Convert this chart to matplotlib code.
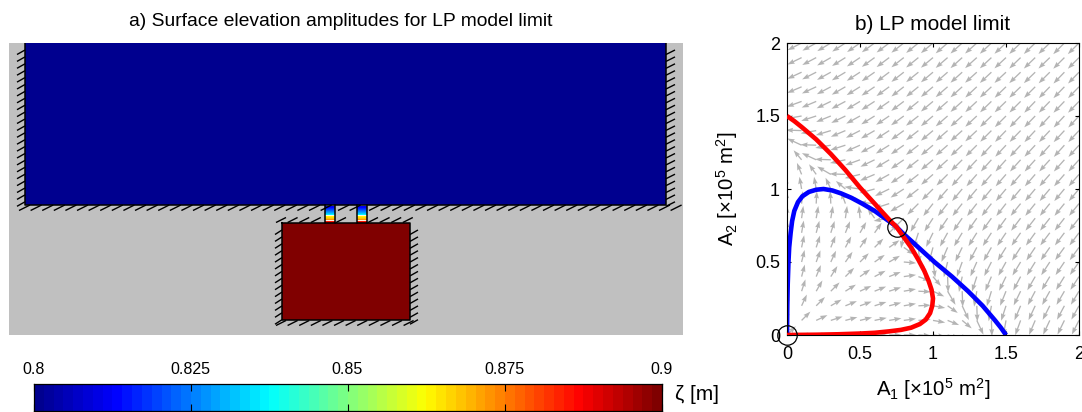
import numpy as np
import matplotlib
matplotlib.use("Agg")
import matplotlib.pyplot as plt
from matplotlib.patches import Rectangle
from matplotlib.collections import LineCollection
from matplotlib.colors import LinearSegmentedColormap

plt.rcParams['font.family'] = ['Liberation Sans', 'DejaVu Sans']
plt.rcParams['mathtext.fontset'] = 'custom'
plt.rcParams['mathtext.rm'] = 'Liberation Sans'
plt.rcParams['mathtext.it'] = 'Liberation Sans:italic'

# ---------- data ----------
zeta_min, zeta_max = 0.8, 0.9
cbar_ticks = [0.8, 0.825, 0.85, 0.875, 0.9]
cbar_labels = ['0.8', '0.825', '0.85', '0.875', '0.9']
basin_value = 0.8
lagoon_value = 0.9
inlet_values = [0.812, 0.814, 0.817, 0.82, 0.823, 0.826, 0.829, 0.832, 0.836, np.nan,
                0.864, 0.866, 0.868, 0.872, np.nan, 0.885, 0.892]

red_x = [0, 0.05, 0.1, 0.2, 0.3, 0.4, 0.5, 0.6, 0.7, 0.75, 0.8, 0.85, 0.9, 0.94, 0.97, 0.99, 1.0, 0.995,
         0.98, 0.95, 0.91, 0.85, 0.78, 0.7, 0.6, 0.5, 0.35, 0.2, 0]
red_y = [1.5, 1.465, 1.425, 1.34, 1.24, 1.13, 1.01, 0.9, 0.79, 0.74, 0.67, 0.6, 0.515, 0.44, 0.37, 0.31, 0.25, 0.2,
         0.15, 0.105, 0.075, 0.05, 0.035, 0.025, 0.015, 0.01, 0.005, 0.002, 0]
blue_x = [1.5, 1.465, 1.425, 1.34, 1.24, 1.13, 1.01, 0.9, 0.79, 0.74, 0.67, 0.6, 0.515, 0.44, 0.37, 0.31, 0.25, 0.2,
          0.15, 0.105, 0.075, 0.05, 0.035, 0.025, 0.015, 0.01, 0.005, 0.002, 0]
blue_y = [0, 0.05, 0.1, 0.2, 0.3, 0.4, 0.5, 0.6, 0.7, 0.75, 0.8, 0.85, 0.9, 0.94, 0.97, 0.99, 1.0, 0.995,
          0.98, 0.95, 0.91, 0.85, 0.78, 0.7, 0.6, 0.5, 0.35, 0.2, 0]
equil_x = [0, 0.75]
equil_y = [0, 0.74]

# arrow direction in degrees; rows A2 = 2.0 ... 0.0, columns A1 = 0.0 ... 2.0
angle_rows = [
 [205,207,209,211,213,215,216,217,218,219,220,221,222,222,223,223,224,224,224,225,225],
 [204,206,208,210,212,214,216,217,218,219,220,221,222,222,223,223,224,224,224,225,225],
 [203,205,207,209,211,213,215,217,218,219,220,221,222,222,223,223,224,224,225,226,226],
 [200,203,205,208,210,212,214,216,218,219,220,221,222,223,223,224,224,225,226,226,226],
 [196,200,203,206,208,211,213,215,217,219,220,221,222,223,224,224,225,226,226,226,226],
 [182,190,198,202,206,209,212,214,216,218,220,221,222,223,224,225,226,226,227,227,227],
 [165,178,190,197,203,207,210,213,216,218,220,221,222,223,225,226,226,227,227,227,227],
 [140,155,178,190,198,204,208,212,215,218,220,221,223,225,227,227,227,227,228,228,228],
 [118,130,155,178,192,200,206,211,215,218,220,222,225,227,228,228,228,228,228,228,228],
 [105,112,125,150,178,194,203,209,214,218,221,225,228,229,229,229,229,229,229,229,229],
 [ 98,100,100,115,140,172,195,206,213,218,225,229,230,230,230,230,230,230,230,230,230],
 [ 93, 85, 87, 93,110,140,175,198,210,225,232,232,232,232,232,232,231,231,231,231,231],
 [ 90, 82, 80, 80, 82, 95,125,190,225,240,237,236,235,235,234,234,233,232,232,232,232],
 [ 90, 80, 75, 72, 68, 60, 55, 45,260,252,244,241,239,238,237,236,235,234,233,233,233],
 [ 90, 78, 72, 68, 62, 55, 45, 35,-35,275,255,247,244,242,240,238,237,236,235,234,234],
 [ 90, 76, 70, 65, 55, 45, 35, 30, -5,-50,278,256,250,246,243,241,239,238,237,236,235],
 [ 90, 75, 68, 58, 45, 35, 28, 22,  8,-20,-50,272,258,252,247,244,242,240,239,238,237],
 [ 90, 72, 60, 45, 32, 25, 22, 18, 10, -3,-25,-60,272,260,253,248,244,242,241,240,239],
 [ 90, 65, 45, 30, 22, 20, 18, 15, 10,  3,-10,-35,-65,272,260,252,247,245,243,242,241],
 [ 90, 45, 25, 18, 15, 14, 12, 10,  8,  5,-10,-22,-40,-65,272,260,250,247,245,244,243],
 [ 45,  0,  0,  0,  0,  0,  0,  0,  0, -3, -8,-15,-28,-50,-75,268,254,250,247,246,245],
]
grid_values = [0, 0.1, 0.2, 0.3, 0.4, 0.5, 0.6, 0.7, 0.8, 0.9, 1.0, 1.1, 1.2, 1.3, 1.4, 1.5, 1.6, 1.7, 1.8, 1.9, 2.0]
a_ticks = [0, 0.5, 1, 1.5, 2]
a_labels = ['0', '0.5', '1', '1.5', '2']

# ---------- layout (pixels of a 1082 x 412 canvas) ----------
W, H = 1082, 412
fig = plt.figure(figsize=(W / 100, H / 100), dpi=100, facecolor='white')
def axes_px(x0, y0, x1, y1, **kw):
    return fig.add_axes([x0 / W, 1 - y1 / H, (x1 - x0) / W, (y1 - y0) / H], **kw)

cmap = LinearSegmentedColormap('matlab_jet', {
    'red':   [(0, 0, 0), (.375, 0, 0), (.625, 1, 1), (.875, 1, 1), (1, .5, .5)],
    'green': [(0, 0, 0), (.125, 0, 0), (.375, 1, 1), (.625, 1, 1), (.875, 0, 0), (1, 0, 0)],
    'blue':  [(0, .5625, .5625), (.125, 1, 1), (.375, 1, 1), (.625, 0, 0), (1, 0, 0)]}, N=64)
cmap.set_bad('#fff4e0')
norm = matplotlib.colors.Normalize(zeta_min, zeta_max)

# ---------- panel a ----------
ax = axes_px(9, 43, 683, 335)
ax.set_xlim(9, 683)
ax.set_ylim(335, 43)
ax.axis('off')
ax.add_patch(Rectangle((9, 43), 674, 292, fc='#c0c0c0', ec='none', zorder=0))
ax.add_patch(Rectangle((25, 43), 641, 162, fc=cmap(norm(basin_value)), ec='none', zorder=1))
ax.add_patch(Rectangle((282, 223), 128, 97, fc=cmap(norm(lagoon_value)), ec='none', zorder=1))
column = np.ma.masked_invalid(np.array(inlet_values)[:, None])
edges_y = np.linspace(205.5, 222.5, len(inlet_values) + 1)
for x0 in (324.5, 356.5):
    ax.pcolormesh([x0, x0 + 10], edges_y, column, cmap=cmap, norm=norm, zorder=1)
    ax.plot([x0, x0], [205, 223], color='k', lw=1.1, zorder=3)
    ax.plot([x0 + 10, x0 + 10], [205, 223], color='k', lw=1.1, zorder=3)

walls = [[(25, 43), (25, 205), (666, 205), (666, 43)],
         [(282, 223), (282, 320), (410, 320), (410, 223), (282, 223)]]
for w in walls:
    xs, ys = zip(*w)
    ax.plot(xs, ys, color='k', lw=1.1, zorder=3, solid_capstyle='projecting')

segs = []
for y in np.arange(50, 206, 6.9):
    segs.append([(17, y + 4.5), (25, y)])
    segs.append([(666, y + 4.5), (675, y)])
for x in list(np.arange(19, 322, 11.6)) + list(np.arange(338, 354, 11.6)) + list(np.arange(369, 672, 11.6)):
    segs.append([(x, 210.5), (x + 11, 205)])
for x in list(np.arange(276, 314, 11.6)) + list(np.arange(336, 347, 11.6)) + list(np.arange(368, 412, 11.6)):
    segs.append([(x, 222.5), (x + 10, 217.5)])
for y in np.arange(230, 321, 6.9):
    segs.append([(275, y + 4.5), (282, y)])
    segs.append([(410, y + 4.5), (418, y)])
for x in np.arange(276, 412, 11.6):
    segs.append([(x, 325.5), (x + 10, 320.5)])
ax.add_collection(LineCollection(segs, colors='k', linewidths=1.0, zorder=2))

fig.text(341 / W, 1 - 21 / H, 'a) Surface elevation amplitudes for LP model limit',
         ha='center', va='center', fontsize=13.85)

# ---------- colour bar ----------
cax = axes_px(33.5, 384, 661.5, 411)
cax.imshow(np.linspace(zeta_min, zeta_max, 64)[None, :], cmap=cmap, norm=norm, aspect='auto',
           extent=[zeta_min, zeta_max, 0, 1], interpolation='nearest')
cax.set_yticks([])
cax.set_xticks(cbar_ticks, cbar_labels, fontsize=11.5)
cax.xaxis.tick_top()
cax.tick_params(axis='x', direction='in', length=5, width=0.8, pad=5, top=True, bottom=True)
for s in cax.spines.values():
    s.set_linewidth(0.9)
fig.text(675 / W, 1 - 394 / H, '\u03b6 [m]', ha='left', va='center', fontsize=15)

# ---------- panel b ----------
bx = axes_px(787, 43, 1079, 335)
gx, gy = np.meshgrid(grid_values, grid_values[::-1])
theta = np.deg2rad(np.array(angle_rows, dtype=float))
length = np.where(np.sin(theta) + np.cos(theta) < -0.3, 0.108, 0.085)
bx.quiver(gx, gy, length * np.cos(theta), length * np.sin(theta), angles='xy', scale_units='xy',
          scale=1, color='#b4b4b4', width=0.0045, headwidth=3.8, headlength=5.5, headaxislength=5, zorder=1)
bx.plot(blue_x, blue_y, color='#0000ff', lw=3.3, zorder=2, solid_capstyle='butt')
bx.plot(red_x, red_y, color='#ff0000', lw=3.3, zorder=3, solid_capstyle='butt')
bx.plot(equil_x, equil_y, 'o', ms=14, mfc='none', mec='k', mew=0.9, clip_on=False, zorder=4)
bx.set_xlim(0, 2)
bx.set_ylim(0, 2)
bx.set_xticks(a_ticks, a_labels, fontsize=13)
bx.set_yticks(a_ticks, a_labels, fontsize=13)
bx.tick_params(direction='in', length=3, width=0.8, top=True, right=True)
bx.tick_params(axis='x', pad=8)
bx.tick_params(axis='y', pad=5)
bx.set_title('b) LP model limit', fontsize=15, pad=9)
bx.set_xlabel(r'A$_1$ [$\times$10$^5$ m$^2$]', fontsize=14.7, labelpad=9)
bx.set_ylabel(r'A$_2$ [$\times$10$^5$ m$^2$]', fontsize=14.7, labelpad=11)

fig.savefig('out.png', dpi=100)
